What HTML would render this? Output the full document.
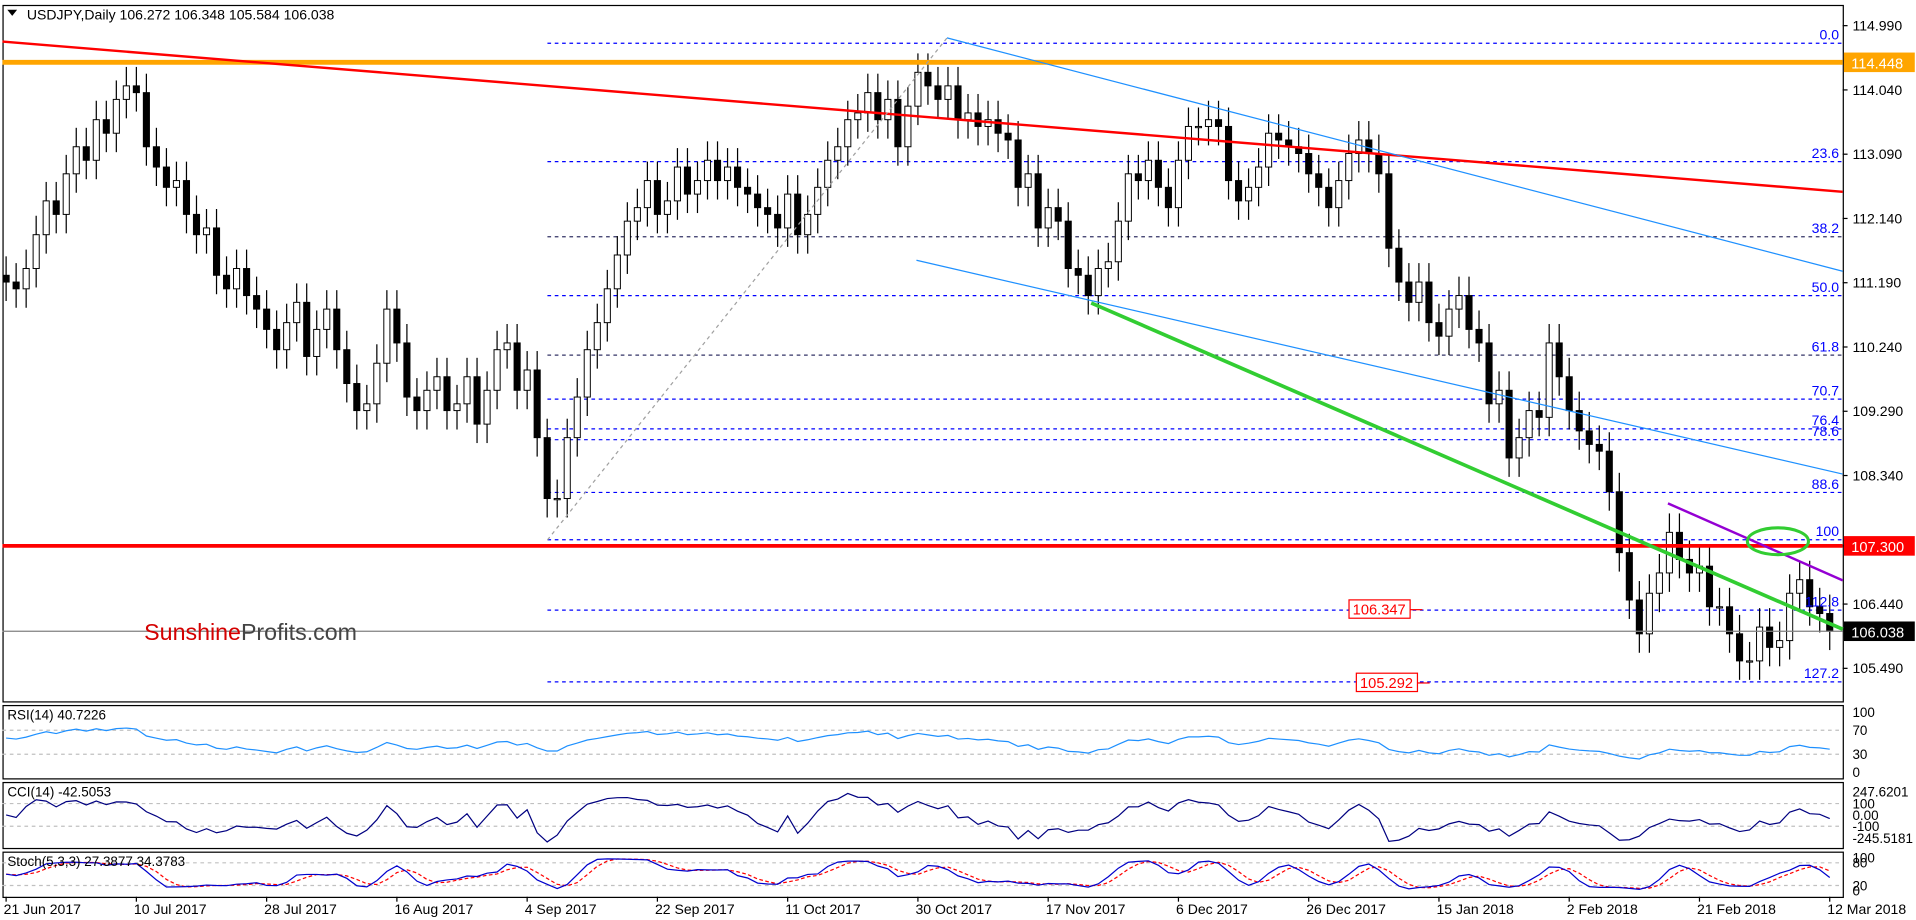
<!DOCTYPE html>
<html><head><meta charset="utf-8"><style>
html,body{margin:0;padding:0;background:#fff;overflow:hidden}
svg{display:block}
text{font-family:"Liberation Sans",sans-serif}
</style></head><body>
<svg id="chart" width="1916" height="920" viewBox="0 0 1568 753" preserveAspectRatio="none" xmlns="http://www.w3.org/2000/svg">
<rect x="0" y="0" width="1568" height="753" fill="#fff"/>
<g id="panels"></g>
<g id="overlay"></g>
<g id="candles"></g>
<g id="lines"></g>
<g id="ind"></g>
<g id="labels"></g>
</svg>
<script>
const closes=[111.2,111.1,111.4,111.9,112.4,112.2,112.8,113.2,113.0,113.6,113.4,113.9,114.1,114.0,
113.2,112.9,112.6,112.7,112.2,111.9,112.0,111.3,111.1,111.4,111.0,110.8,110.5,110.2,110.6,110.9,
110.1,110.5,110.8,110.2,109.7,109.3,109.4,110.0,110.8,110.3,109.5,109.3,109.6,109.8,109.3,109.4,
109.8,109.1,109.6,110.2,110.3,109.6,109.9,108.9,108.0,108.0,108.9,109.5,110.2,110.6,111.1,111.6,
112.1,112.3,112.7,112.2,112.4,112.9,112.5,112.7,113.0,112.7,112.9,112.6,112.5,112.3,112.2,112.0,
112.5,111.9,112.2,112.6,113.0,113.2,113.6,113.7,114.0,113.6,113.9,113.2,113.8,114.3,114.1,113.9,
114.1,113.6,113.7,113.5,113.6,113.4,113.3,112.6,112.8,112.0,112.3,112.1,111.4,111.3,111.0,111.4,
111.5,112.1,112.8,112.7,113.0,112.6,112.3,113.0,113.5,113.5,113.6,113.5,112.7,112.4,112.6,112.9,
113.4,113.3,113.2,113.1,112.8,112.6,112.3,112.7,113.1,113.3,113.1,112.8,111.7,111.2,110.9,111.2,
110.6,110.4,110.8,111.0,110.5,110.3,109.4,109.6,108.6,108.9,109.3,109.2,110.3,109.8,109.3,109.0,
108.8,108.7,108.1,107.2,106.5,106.0,106.6,106.9,107.5,107.1,106.9,107.0,106.4,106.4,106.0,105.6,
105.6,106.1,105.8,105.9,106.6,106.8,106.4,106.3,106.04];
const priceTicks=[114.990,114.040,113.090,112.140,111.190,110.240,109.290,108.340,107.300,106.440,105.490];
const dateLabels=["21 Jun 2017","10 Jul 2017","28 Jul 2017","16 Aug 2017","4 Sep 2017","22 Sep 2017","11 Oct 2017","30 Oct 2017","17 Nov 2017","6 Dec 2017","26 Dec 2017","15 Jan 2018","2 Feb 2018","21 Feb 2018","12 Mar 2018"];
const dateBars=[0,13,26,39,52,65,78,91,104,117,130,143,156,169,182];
const fibLevels=["0.0","23.6","38.2","50.0","61.8","70.7","76.4","78.6","88.6","100","112.8","127.2"];
const fibPrices=[114.73,112.98,111.87,111.00,110.12,109.47,109.03,108.87,108.09,107.39,106.35,105.29];

const NS="http://www.w3.org/2000/svg";
function mk(parent,tag,attrs,txt){const e=document.createElementNS(NS,tag);for(const k in attrs)e.setAttribute(k,attrs[k]);if(txt!==undefined)e.textContent=txt;parent.appendChild(e);return e;}
const X0=5,DX=8.2,PR=1508;
const xs=i=>X0+i*DX;
const ys=p=>21+(114.99-p)*55.37;
const G=id=>document.getElementById(id);
const panels=G('panels'),ov=G('overlay'),cg=G('candles'),lg=G('lines'),ig=G('ind'),lb=G('labels');

[[2,4,574],[2,577,637],[2,640,694],[2,697,734]].forEach((p,k)=>{
 const r=mk(panels,'rect',{x:p[0]+0.5,y:p[1]+0.5,width:PR-p[0],height:p[2]-p[1],fill:'none',stroke:'#000','stroke-width':1});
 
 
});
priceTicks.forEach(p=>{const y=ys(p);
 mk(lb,'line',{x1:PR,x2:PR+4,y1:y,y2:y,stroke:'#000'});
 const t=mk(lb,'text',{x:PR+8,y:y+4,'font-size':11.5,fill:'#000'},p.toFixed(3));
 
 
});
dateLabels.forEach((d,k)=>{const x=xs(dateBars[k]);
 mk(lb,'line',{x1:x,x2:x,y1:734,y2:738,stroke:'#000'});
 const t=mk(lb,'text',{x:x-2,y:748,'font-size':11.5,fill:'#000'},d);
 
 
});
fibPrices.forEach((p,k)=>{const y=ys(p);
 const dark=(fibLevels[k]==="38.2"||fibLevels[k]==="61.8");
 const l=mk(ov,'line',{x1:448,x2:PR,y1:y,y2:y,stroke:dark?'#333366':'#0000ff','stroke-dasharray':'3,3','stroke-width':1});
 
 
 const t=mk(lb,'text',{x:1505,y:y-3,'font-size':11.5,fill:'#0000ff','text-anchor':'end'},fibLevels[k]);
 
 
});
function hl(y,c,w,name){const l=mk(lg,'line',{x1:2,x2:PR,y1:y,y2:y,stroke:c,'stroke-width':w});}
hl(ys(106.038),'#808080',1,'current-price-line');
hl(ys(114.448),'#ffa500',4,'resistance-line-114448');
hl(ys(107.300),'#ff0000',3,'support-line-107300');
function ln(x1,y1,x2,y2,c,w,name,dash){const l=mk(lg,'line',{x1,y1,x2,y2,stroke:c,'stroke-width':w});if(dash)l.setAttribute('stroke-dasharray',dash);}
ln(2,34,PR,157,'#ff0000',2,'red-trendline');
ln(448,442,775,31,'#a0a0a0',1,'fib-anchor-line','3,3');
ln(775,31,PR,222,'#1e90ff',1,'blue-channel-upper');
ln(750,213,PR,388,'#1e90ff',1,'blue-channel-lower');
ln(893,248,PR,515,'#32cd32',3,'green-trendline');
ln(1365,412,PR,475,'#9400d3',2,'purple-trendline');
const el=mk(lg,'ellipse',{cx:1455,cy:443,rx:25,ry:11,fill:'none',stroke:'#32cd32','stroke-width':2.5});



let prev=closes[0]+0.1;
closes.forEach((c,i)=>{const o=prev;prev=c;
 const x=xs(i),hi=Math.max(o,c)+0.28,lo=Math.min(o,c)-0.28;
 mk(cg,'line',{x1:x,x2:x,y1:ys(hi),y2:ys(lo),stroke:'#000','stroke-width':1});
 const top=ys(Math.max(o,c)),h=Math.max(1,ys(Math.min(o,c))-top);
 const r=mk(cg,'rect',{x:x-2.5,y:top,width:5,height:h,fill:c>=o?'#fff':'#000',stroke:'#000','stroke-width':0.8});
 
 
});

const n=closes.length;
let rsi=[],ag=0.17,al=0.13;
rsi.push([0,57]);
for(let i=1;i<n;i++){const d=closes[i]-closes[i-1];const g=Math.max(d,0),l=Math.max(-d,0);
 ag=(ag*13+g)/14;al=(al*13+l)/14;
 rsi.push([i,al===0?100:100-100/(1+ag/al)]);}
let cci=[];
for(let i=0;i<n;i++){const w=closes.slice(Math.max(0,i-13),i+1);const m=w.reduce((a,b)=>a+b)/w.length;const md=Math.max(0.15,w.reduce((a,b)=>a+Math.abs(b-m),0)/w.length);cci.push([i,Math.max(-240,Math.min(240,(closes[i]-m)/(0.015*md)))]);}
let k=[];
for(let i=0;i<n;i++){const w=closes.slice(Math.max(0,i-4),i+1);const hh=Math.max(...w)+0.28,ll=Math.min(...w)-0.28;k.push([i,100*(closes[i]-ll)/(hh-ll)]);}
function sm(a){return a.map((v,j)=>{const w=a.slice(Math.max(0,j-2),j+1);return [v[0],w.reduce((s,q)=>s+q[1],0)/w.length];});}
let ks=sm(k),ds=sm(ks);
const yR=v=>632-v*0.49,yC=v=>667-v*0.093,yS=v=>731-v*0.31;
function pl(arr,fy,c,name,dash){const p=mk(ig,'polyline',{points:arr.map(a=>xs(a[0]).toFixed(1)+','+fy(a[1]).toFixed(1)).join(' '),fill:'none',stroke:c,'stroke-width':1});if(dash)p.setAttribute('stroke-dasharray',dash);}
[[yR(70)],[yR(30)],[yC(100)],[yC(-100)],[yS(80)],[yS(20)]].forEach(a=>mk(ig,'line',{x1:2,x2:PR,y1:a[0],y2:a[0],stroke:'#c0c0c0','stroke-dasharray':'3,3'}));
pl(rsi,yR,'#1e90ff','rsi-line');
pl(cci,yC,'#000080','cci-line');
pl(ds,yS,'#ff0000','stoch-signal-line','3,2');
pl(ks,yS,'#0000cd','stoch-main-line');
[["100",yR(100)],["70",yR(70)],["30",yR(30)],["0",yR(0)],["247.6201",648],["100",yC(100)],["0.00",yC(0)],["-100",yC(-100)],["-245.5181",686],["100",702],["80",yS(80)],["20",yS(20)],["0",729]].forEach(a=>{
 const t=mk(lb,'text',{x:PR+8,y:a[1]+4,'font-size':11,fill:'#000'},a[0]);
 
 
});
function tx(x,y,s,sz,c,name,extra){const t=mk(lb,'text',Object.assign({x,y,'font-size':sz,fill:c},extra||{}),s);return t;}
mk(lb,'path',{d:'M6,8 L14,8 L10,13 Z',fill:'#000'});
tx(22,16,'USDJPY,Daily  106.272 106.348 105.584 106.038',11.5,'#000','chart-title');
tx(6,589,'RSI(14) 40.7226',11,'#000','rsi-title');
tx(6,652,'CCI(14) -42.5053',11,'#000','cci-title');
tx(6,709,'Stoch(5,3,3) 27.3877 34.3783',11,'#000','stoch-title');
function tag(p,bg,fg,s,name){const y=ys(p);const r=mk(lb,'rect',{x:PR+1,y:y-8,width:58,height:16,fill:bg});tx(PR+7,y+5,s,12,fg,name+'-text');}
tag(114.448,'#ffa500','#fff','114.448','orange-price-tag');
tag(107.300,'#ff0000','#fff','107.300','red-price-tag');
tag(106.038,'#000','#fff','106.038','current-price-tag');
function box(x,y,s,name){const r=mk(lb,'rect',{x,y,width:50,height:15,fill:'#fff',stroke:'#ff0000','stroke-width':1});tx(x+3,y+12,s,12,'#ff0000',name+'-text');mk(lb,'line',{x1:x+50,x2:x+60,y1:y+8,y2:y+8,stroke:'#ff0000'});}
box(1104,491,'106.347','label-106347');
box(1110,551,'105.292','label-105292');
const wm=tx(118,524,'',19,'#cc0000','watermark');
const s1=document.createElementNS(NS,'tspan');s1.setAttribute('fill','#d40000');s1.textContent='Sunshine';wm.appendChild(s1);
const s2=document.createElementNS(NS,'tspan');s2.setAttribute('fill','#444');s2.textContent='Profits.com';wm.appendChild(s2);
</script>
</body></html>
